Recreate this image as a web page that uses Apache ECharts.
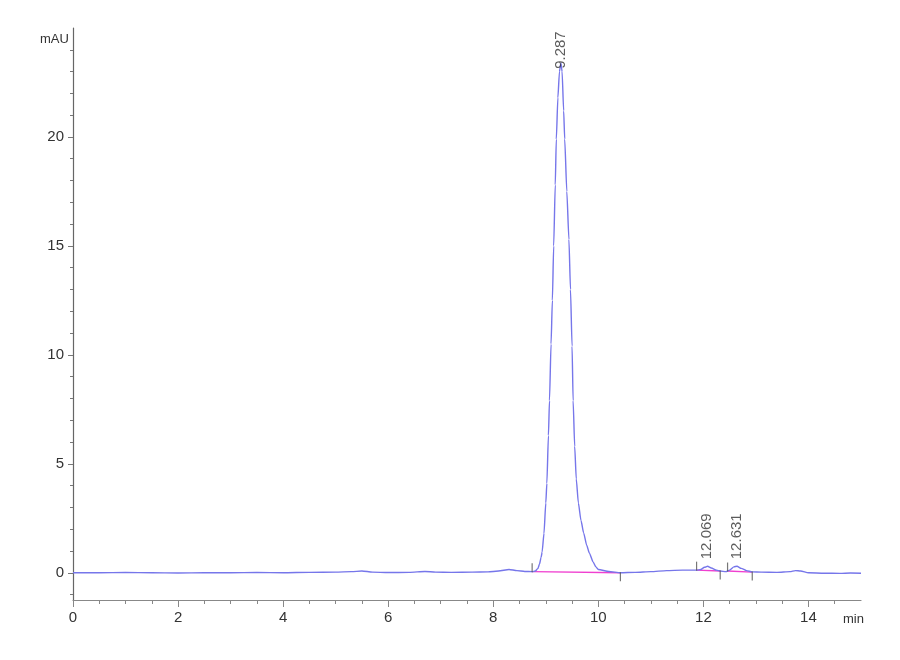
<!DOCTYPE html>
<html>
<head>
<meta charset="utf-8">
<script src="https://cdn.jsdelivr.net/npm/echarts@6/dist/echarts.min.js"></script>
<style>
html,body{margin:0;padding:0;background:#fff;}
#chart{width:900px;height:660px;}
</style>
</head>
<body>
<div id="chart"></div>
<script>
// ---- data ----
var times = [0,0.5,1.0,1.5,2.0,2.5,3.0,3.5,4.0,4.5,5.0,5.3,5.5,5.7,6.0,6.4,6.7,6.9,7.2,7.6,7.9,8.1,8.3,8.45,8.6,8.74,
  8.80,8.85,8.88,8.91,8.93,8.965,9.00,9.02,9.05,9.07,9.10,9.125,9.15,9.18,9.20,9.23,9.26,9.287,9.31,9.34,9.36,9.40,9.44,9.47,9.50,9.52,9.55,9.58,9.62,9.67,9.72,9.78,9.83,9.90,9.95,10.0,10.2,10.42,
  10.7,11.0,11.3,11.6,11.87,11.95,12.02,12.08,12.15,12.25,12.32,12.43,12.5,12.58,12.64,12.72,12.82,12.93,13.1,13.4,13.65,13.75,13.85,14.0,14.3,14.6,14.8,15.0];
var signal = [0.0,0.0,0.01,0.0,-0.01,0.0,0.0,0.01,0.0,0.02,0.03,0.05,0.08,0.03,0.01,0.02,0.06,0.03,0.02,0.03,0.04,0.08,0.15,0.1,0.06,0.05,
  0.08,0.2,0.4,0.7,0.95,1.8,3.2,4.1,6.3,7.9,10.5,12.5,15.0,17.8,19.9,21.8,23.0,23.4,23.0,21.2,19.9,17.5,15.3,13.0,10.4,7.9,5.8,4.3,3.2,2.4,1.83,1.25,0.9,0.5,0.28,0.15,0.06,0.0,
  0.02,0.05,0.1,0.12,0.12,0.15,0.25,0.3,0.22,0.12,0.08,0.05,0.12,0.27,0.3,0.2,0.1,0.04,0.03,0.02,0.05,0.1,0.08,0.0,-0.02,-0.03,-0.01,-0.02];

var peakTimes = [9.287, 12.069, 12.631];
var peakHeights = [23.4, 0.3, 0.3];
var peakLabelGap = [-6, 7, 7];

var intStart = [8.74, 11.87, 12.46];
var intStartVal = [0.05, 0.12, 0.08];
var intEnd = [10.42, 12.32, 12.93];
var intEndVal = [0.0, 0.08, 0.03];

var xLabelValues = [0,2,4,6,8,10,12,14];
var xMinorValues = [0,0.5,1,1.5,2,2.5,3,3.5,4,4.5,5,5.5,6,6.5,7,7.5,8,8.5,9,9.5,10,10.5,11,11.5,12,12.5,13,13.5,14,14.5];
var yLabelValues = [0,5,10,15,20];
var yMinorValues = [-1,0,1,2,3,4,5,6,7,8,9,10,11,12,13,14,15,16,17,18,19,20,21,22,23,24];

// ---- chart ----
var FONT = "'Liberation Sans Narrow', 'Liberation Sans', Arial, sans-serif";
var chart = echarts.init(document.getElementById('chart'));

var traceData = times.map(function(t, i){ return [t, signal[i]]; });

var series = [{
  type: 'line',
  data: traceData,
  showSymbol: false,
  smooth: 0.2,
  smoothMonotone: 'x',
  lineStyle: {color: '#7676ea', width: 1.4},
  z: 3,
  silent: true
}];

for (var k = 0; k < intStart.length; k++) {
  series.push({
    type: 'line',
    data: [[intStart[k], intStartVal[k]], [intEnd[k], intEndVal[k]]],
    showSymbol: false,
    lineStyle: {color: '#f040d0', width: 1.3},
    z: 2,
    silent: true
  });
}

series.push({
  type: 'scatter',
  data: intStart.map(function(t, i){ return [t, intStartVal[i]]; }),
  symbol: 'rect',
  symbolSize: [1.2, 9],
  symbolOffset: [0, -4],
  itemStyle: {color: '#555'},
  z: 4,
  silent: true
});
series.push({
  type: 'scatter',
  data: intEnd.map(function(t, i){ return [t, intEndVal[i]]; }),
  symbol: 'rect',
  symbolSize: [1.2, 9],
  symbolOffset: [0, 4],
  itemStyle: {color: '#555'},
  z: 4,
  silent: true
});

series.push({
  type: 'scatter',
  data: peakTimes.map(function(t, i){
    return {
      value: [t, peakHeights[i]],
      label: {distance: peakLabelGap[i]}
    };
  }),
  symbolSize: 0,
  z: 5,
  silent: true,
  label: {
    show: true,
    position: 'top',
    rotate: 90,
    align: 'left',
    verticalAlign: 'middle',
    fontFamily: "'Liberation Sans', Arial, sans-serif",
    fontSize: 15,
    color: '#333',
    formatter: function(p){ return p.value[0].toFixed(3); }
  }
});

chart.setOption({
  animation: false,
  backgroundColor: '#fff',
  grid: {left: 73, right: 39, top: 28, bottom: 60},
  xAxis: [{
    type: 'value',
    min: 0, max: 15,
    axisLine: {show: true, onZero: false, lineStyle: {color: '#888', width: 1.2}},
    axisTick: {show: true, length: 7, customValues: xLabelValues, lineStyle: {color: '#888'}},
    axisLabel: {customValues: xLabelValues, fontFamily: FONT, fontSize: 15, color: '#333', margin: 10},
    splitLine: {show: false}
  }, {
    type: 'value',
    min: 0, max: 15,
    position: 'bottom',
    axisLine: {show: false, onZero: false},
    axisTick: {show: true, length: 4, customValues: xMinorValues, lineStyle: {color: '#888'}},
    axisLabel: {show: false},
    splitLine: {show: false}
  }],
  yAxis: [{
    type: 'value',
    min: -1.25, max: 25,
    axisLine: {show: true, onZero: false, lineStyle: {color: '#666', width: 1.2}},
    axisTick: {show: true, length: 5, customValues: yLabelValues, lineStyle: {color: '#777'}},
    axisLabel: {customValues: yLabelValues, fontFamily: FONT, fontSize: 15, color: '#333', margin: 9},
    splitLine: {show: false}
  }, {
    type: 'value',
    min: -1.25, max: 25,
    position: 'left',
    axisLine: {show: false, onZero: false},
    axisTick: {show: true, length: 3, customValues: yMinorValues, lineStyle: {color: '#777'}},
    axisLabel: {show: false},
    splitLine: {show: false}
  }],
  graphic: [{
    type: 'text', left: 40, top: 33,
    style: {text: 'mAU', fontFamily: FONT, fontSize: 13, fill: '#333'}
  }, {
    type: 'text', left: 843, top: 613,
    style: {text: 'min', fontFamily: FONT, fontSize: 13, fill: '#333'}
  }],
  series: series
});
</script>
</body>
</html>
